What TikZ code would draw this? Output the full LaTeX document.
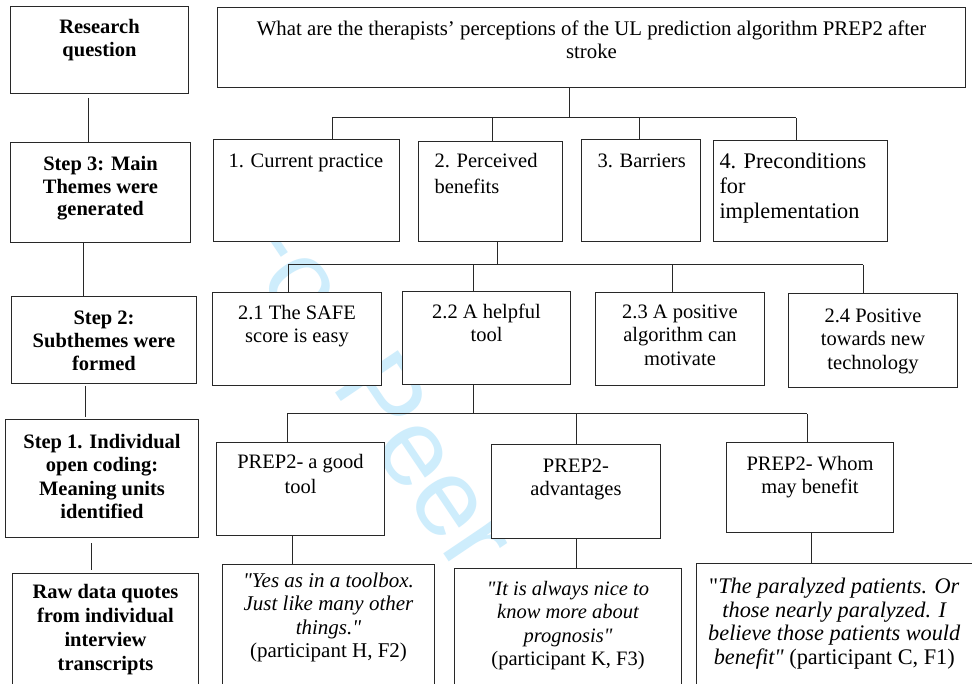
\documentclass[tikz,border=0pt]{standalone}
\usepackage{fontspec}
\setmainfont{Liberation Serif}[Ligatures=TeXOff]
\newfontfamily\wmfont{Liberation Sans}
\definecolor{wmblue}{RGB}{206,237,252}
\definecolor{ink}{RGB}{40,40,40}

% framed text box: name, x1, y1, x2, y2, xsep, ysep, content (text hangs from the top)
\newcommand\tbox[8]{%
  \node[frame, inner xsep=#6pt, inner ysep=#7pt] (#1) at (#2,#3)
    {\parbox[t][\dimexpr #5pt-#3pt-#7pt-#7pt\relax][t]{\dimexpr #4pt-#2pt-#6pt-#6pt\relax}{#8}};}

\begin{document}
\begin{tikzpicture}[x=1pt, y=-1pt,
  frame/.style={draw=ink, line width=1pt, fill=white, anchor=north west,
    font=\fontsize{20.5}{23.5}\selectfont},
  link/.style={draw=ink, line width=1pt},
  wm/.style={text=wmblue, font=\wmfont\fontsize{110}{110}\selectfont,
    rotate=-56, anchor=base west, inner sep=0pt}]
\useasboundingbox (0,0) rectangle (972,684);
\fill[white] (0,0) rectangle (972,684);

% review stamp behind the boxes
\node[wm] (stamp) at (221,223) {For Peer Review};

% ---- left column: analysis steps ----
\tbox{rq}{10}{6}{188}{93}{4}{10.5}{\centering\bfseries\strut Research\\question}
\tbox{st3}{10}{142}{190}{242}{4}{12.5}{\centering\bfseries\fontsize{20.5}{22.5}\selectfont\strut Step 3: Main\\Themes were\\generated}
\tbox{st2}{11}{296}{196}{383}{4}{11.5}{\centering\bfseries\fontsize{20.5}{23}\selectfont\strut Step 2:\\Subthemes were\\formed}
\tbox{st1}{5}{419}{198}{537}{4}{12.5}{\centering\bfseries\strut Step 1. Individual\\open coding:\\Meaning units\\identified}
\tbox{raw}{12}{573}{198}{700}{4}{8.5}{\centering\bfseries\fontsize{20.5}{24}\selectfont\strut Raw data quotes\\from individual\\interview\\transcripts}

% ---- research question ----
\tbox{rqt}{217}{7}{965}{87}{6}{11.5}{\centering\fontsize{20.8}{23.5}\selectfont\strut What are the therapists’ perceptions of the UL prediction algorithm PREP2 after\\stroke}

% ---- main themes ----
\tbox{th1}{213}{139}{399}{241}{15}{11.5}{\raggedright\strut 1. Current practice}
\tbox{th2}{418}{141}{562}{241}{16}{8}{\raggedright\fontsize{20.5}{25.6}\selectfont\strut 2. Perceived\\benefits}
\tbox{th3}{581}{139}{700}{241}{16}{11.5}{\raggedright\strut\mbox{3. Barriers}}
\tbox{th4}{713}{140}{887}{241}{6}{10.5}{\raggedright\fontsize{22.3}{25}\selectfont\strut 4. Preconditions\\for\\implementation}

% ---- subthemes ----
\tbox{sb1}{212}{292}{381}{385}{4}{10.5}{\centering\strut 2.1 The SAFE\\score is easy}
\tbox{sb2}{402}{291}{570}{384}{4}{10.5}{\centering\strut 2.2 A helpful\\tool}
\tbox{sb3}{595}{292}{764}{385}{4}{9.5}{\centering\strut 2.3 A positive\\algorithm can\\motivate}
\tbox{sb4}{788}{293}{957}{387}{4}{12.5}{\centering\strut 2.4 Positive\\towards new\\technology}

% ---- meaning units ----
\tbox{cd1}{216}{442}{384}{535}{4}{8.5}{\centering\fontsize{20.5}{25}\selectfont\strut PREP2- a good\\tool}
\tbox{cd2}{491}{444}{660}{538}{4}{11.5}{\centering\strut PREP2-\\advantages}
\tbox{cd3}{726}{442}{893}{532}{4}{11.5}{\centering\strut PREP2- Whom\\may benefit}

% ---- quotes ----
\tbox{qt1}{222}{564}{434}{683.5}{4}{6.5}{\centering\fontsize{21}{23.5}\selectfont\strut\itshape "Yes as in a toolbox.\\Just like many other\\things."\\\upshape (participant H, F2)}
\tbox{qt2}{454}{568}{681}{683.5}{4}{10.5}{\centering\strut\itshape "It is always nice to\\know more about\\prognosis"\\\upshape (participant K, F3)}
\tbox{qt3}{696}{563}{971.5}{683.5}{4}{14}{\centering\fontsize{22.3}{23.5}\selectfont\strut"\itshape The paralyzed patients. Or\\those nearly paralyzed. I\\believe those patients would\\benefit"\upshape{} (participant C, F1)}

% ---- left column links ----
\coordinate (l1) at ([xshift=-11pt]rq.south);
\draw[link, shorten <=4pt] (l1) -- (l1 |- st3.north);
\coordinate (l2) at ([xshift=-17pt]st3.south);
\draw[link] (l2) -- (l2 |- st2.north);
\coordinate (l3) at ([xshift=-18.5pt]st2.south);
\draw[link, shorten <=2pt, shorten >=2pt] (l3) -- (l3 |- st1.north);
\coordinate (l4) at ([xshift=-10.5pt]st1.south);
\draw[link, shorten <=5pt, shorten >=3pt] (l4) -- (l4 |- raw.north);

% ---- question to main themes ----
\coordinate (hub1) at (569,118);
\coordinate (b1a) at (332,118);
\coordinate (b1b) at (492,118);
\coordinate (b1c) at (639,118);
\coordinate (b1d) at (796,118);
\draw[link] (rqt.south -| hub1) -- (hub1);
\draw[link] (b1a) -- (b1d);
\draw[link] (b1a) -- (b1a |- th1.north);
\draw[link] (b1b) -- (b1b |- th2.north);
\draw[link] (b1c) -- (b1c |- th3.north);
\draw[link] (b1d) -- (b1d |- th4.north);

% ---- perceived benefits to subthemes ----
\coordinate (hub2) at (497,265);
\coordinate (b2a) at (288,265);
\coordinate (b2b) at (473,265);
\coordinate (b2c) at (672,265);
\coordinate (b2d) at (863,265);
\draw[link] (th2.south -| hub2) -- (hub2);
\draw[link] (b2a) -- (b2d);
\draw[link] (b2a) -- (b2a |- sb1.north);
\draw[link] (b2b) -- (b2b |- sb2.north);
\draw[link] (b2c) -- (b2c |- sb3.north);
\draw[link] (b2d) -- (b2d |- sb4.north);

% ---- helpful tool to meaning units ----
\coordinate (hub3) at (473,414);
\coordinate (b3a) at (287,414);
\coordinate (b3b) at (576,414);
\coordinate (b3c) at (807,414);
\draw[link] (sb2.south -| hub3) -- (hub3);
\draw[link] (b3a) -- (b3c);
\draw[link] (b3a) -- (b3a |- cd1.north);
\draw[link] (b3b) -- (b3b |- cd2.north);
\draw[link] (b3c) -- (b3c |- cd3.north);

% ---- meaning units to quotes ----
\coordinate (p1) at ([xshift=-8pt]cd1.south);
\draw[link] (p1) -- (p1 |- qt1.north);
\coordinate (p2) at ([xshift=0.5pt]cd2.south);
\draw[link] (p2) -- (p2 |- qt2.north);
\coordinate (p3) at ([xshift=1.5pt]cd3.south);
\draw[link] (p3) -- (p3 |- qt3.north);
\end{tikzpicture}
\end{document}
